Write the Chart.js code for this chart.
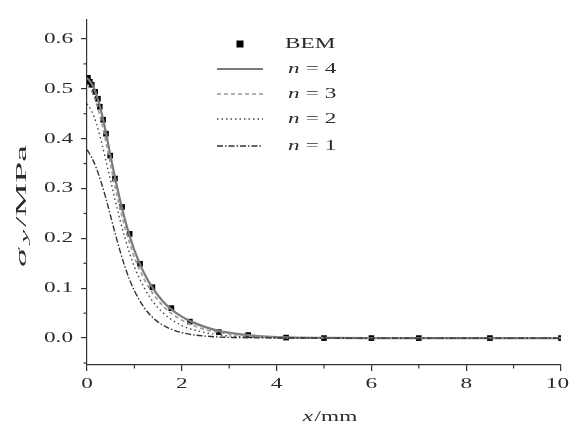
<!DOCTYPE html>
<html>
<head>
<meta charset="utf-8">
<script src="https://cdn.jsdelivr.net/npm/chart.js@4.4.1/dist/chart.umd.min.js"></script>
<style>
  html, body { margin: 0; padding: 0; background: #fff; }
  #wrap { width: 570px; height: 428px; }
</style>
</head>
<body>
<div id="wrap"><canvas id="stressChart" width="570" height="428"></canvas></div>
<script>
// BEM reference points (x in mm, sigma_y in MPa)
const bemX = [0.02, 0.06, 0.1, 0.17, 0.23, 0.27, 0.34, 0.4, 0.49, 0.59, 0.74, 0.9, 1.12, 1.38, 1.78, 2.17, 2.78, 3.4, 4.2, 5, 6, 7, 8.5, 10];
const bemY = [0.522, 0.514, 0.508, 0.494, 0.48, 0.464, 0.438, 0.41, 0.366, 0.32, 0.263, 0.209, 0.149, 0.102, 0.06, 0.033, 0.012, 0.006, 0.001, 0, 0, 0, 0, 0];

// analytic curves sampled at these x
const curveX = [0, 0.1, 0.2, 0.3, 0.4, 0.5, 0.6, 0.7, 0.8, 0.9, 1.0, 1.2, 1.4, 1.6, 1.8, 2.0, 2.2, 2.5, 2.8, 3.2, 3.6, 4.0, 5, 6, 7, 8, 9, 10];
const n4 = [0.522, 0.510, 0.488, 0.455, 0.412, 0.363, 0.318, 0.276, 0.238, 0.205, 0.176, 0.131, 0.098, 0.074, 0.056, 0.043, 0.033, 0.022, 0.014, 0.008, 0.004, 0.002, 0.0005, 0, 0, 0, 0, 0];
const n3 = [0.508, 0.495, 0.470, 0.436, 0.393, 0.346, 0.300, 0.259, 0.222, 0.190, 0.162, 0.119, 0.088, 0.065, 0.048, 0.036, 0.027, 0.017, 0.011, 0.006, 0.003, 0.0015, 0.0003, 0, 0, 0, 0, 0];
const n2 = [0.470, 0.455, 0.430, 0.395, 0.356, 0.315, 0.274, 0.236, 0.201, 0.170, 0.143, 0.102, 0.072, 0.051, 0.036, 0.025, 0.018, 0.011, 0.006, 0.003, 0.0015, 0.0007, 0.0001, 0, 0, 0, 0, 0];
const n1 = [0.378, 0.362, 0.340, 0.312, 0.280, 0.244, 0.208, 0.174, 0.143, 0.117, 0.095, 0.062, 0.040, 0.026, 0.017, 0.011, 0.007, 0.004, 0.002, 0.001, 0.0005, 0.0002, 0, 0, 0, 0, 0, 0];

const xTicks = [0, 2, 4, 6, 8, 10];
const xMinor = [1, 3, 5, 7, 9];
const yTicks = [0, 0.1, 0.2, 0.3, 0.4, 0.5, 0.6];
const yMinor = [-0.05, 0.05, 0.15, 0.25, 0.35, 0.45, 0.55];

const serif = '"Liberation Serif", "DejaVu Serif", serif';
const STRETCH = 1.55; // the reference's lettering is drawn wide

function pts(xs, ys) {
    return xs.map((x, i) => ({ x: x, y: ys[i] }));
}

function lineSet(label, ys, color, width, dash) {
    return {
        label: label,
        data: pts(curveX, ys),
        showLine: true,
        borderColor: color,
        borderWidth: width,
        borderDash: dash,
        pointRadius: 0,
        cubicInterpolationMode: 'monotone',
        fill: false
    };
}

const datasets = [
    lineSet('n = 1', n1, '#333', 1.4, [6, 2, 1.5, 2]),
    lineSet('n = 2', n2, '#444', 1.4, [1.5, 3]),
    lineSet('n = 3', n3, '#999', 1.6, [4, 3]),
    lineSet('n = 4', n4, '#7a7a7a', 2.2, []),
    {
        label: 'BEM',
        data: pts(bemX, bemY),
        showLine: false,
        pointStyle: 'rect',
        pointRadius: 4,
        backgroundColor: '#000',
        borderColor: '#000',
        borderWidth: 0
    }
];

// parts: [{t, it, size, dy, gap}] drawn left to right, stretched by sx
function partsWidth(c, parts) {
    let w = 0;
    parts.forEach(p => {
        c.font = (p.it ? 'italic ' : '') + (p.size || 15) + 'px ' + serif;
        w += c.measureText(p.t).width + (p.gap || 0);
    });
    return w;
}

function drawParts(c, parts, x, y, sx, align, maxRight) {
    const w = partsWidth(c, parts) * sx;
    let start = x;
    if (align === 'center') start = x - w / 2;
    if (align === 'right') start = x - w;
    if (maxRight && start + w > maxRight) start = maxRight - w;
    c.save();
    c.translate(start, y);
    c.scale(sx, 1);
    c.textBaseline = 'middle';
    c.textAlign = 'left';
    let cx = 0;
    parts.forEach(p => {
        c.font = (p.it ? 'italic ' : '') + (p.size || 15) + 'px ' + serif;
        c.fillText(p.t, cx, p.dy || 0);
        cx += c.measureText(p.t).width + (p.gap || 0);
    });
    c.restore();
}

const decorations = {
    id: 'decorations',
    afterDraw(chart) {
        const c = chart.ctx;
        const xs = chart.scales.x, ys = chart.scales.y;
        const area = chart.chartArea;
        c.save();
        c.strokeStyle = '#333';
        c.lineWidth = 1.2;
        xMinor.forEach(v => {
            const px = xs.getPixelForValue(v);
            c.beginPath(); c.moveTo(px, area.bottom); c.lineTo(px, area.bottom + 3.5); c.stroke();
        });
        yMinor.forEach(v => {
            const py = ys.getPixelForValue(v);
            c.beginPath(); c.moveTo(area.left, py); c.lineTo(area.left - 3.5, py); c.stroke();
        });

        // tick labels
        c.fillStyle = '#2a2a2a';
        xTicks.forEach(v => {
            drawParts(c, [{ t: String(v) }], xs.getPixelForValue(v), 384, STRETCH, 'center', 569);
        });
        yTicks.forEach(v => {
            drawParts(c, [{ t: v.toFixed(1) }], 73, ys.getPixelForValue(v), STRETCH, 'right');
        });

        // legend
        const rows = [
            { ds: datasets[4], y: 44 },
            { ds: datasets[3], y: 69 },
            { ds: datasets[2], y: 94 },
            { ds: datasets[1], y: 119 },
            { ds: datasets[0], y: 146 }
        ];
        rows.forEach(r => {
            const ds = r.ds;
            if (ds.showLine) {
                c.strokeStyle = ds.borderColor;
                c.lineWidth = ds.borderWidth;
                c.setLineDash(ds.borderDash);
                c.beginPath(); c.moveTo(217, r.y); c.lineTo(263, r.y); c.stroke();
                c.setLineDash([]);
                c.fillStyle = '#2a2a2a';
                drawParts(c, [{ t: 'n', it: true, gap: 4 }, { t: '= ' + ds.label.slice(4) }], 288, r.y, STRETCH, 'left');
            } else {
                c.fillStyle = '#000';
                c.fillRect(236.5, r.y - 3.5, 7, 7);
                c.fillStyle = '#2a2a2a';
                drawParts(c, [{ t: ds.label }], 285, r.y, STRETCH, 'left');
            }
        });

        // x axis title
        c.fillStyle = '#2a2a2a';
        drawParts(c, [{ t: 'x', it: true, gap: 1 }, { t: '/mm' }], 330, 417, STRETCH, 'center');

        // y axis title, rotated, stretched along its length
        c.save();
        c.translate(22, 206);
        c.rotate(-Math.PI / 2);
        const yParts = [{ t: 'σ', it: true, size: 14, gap: 2 }, { t: 'y', it: true, size: 11, dy: 3, gap: 1 }, { t: '/MPa', size: 14 }];
        const natural = partsWidth(c, yParts);
        drawParts(c, yParts, 0, 0, 122 / natural, 'center');
        c.restore();

        c.restore();
    }
};

const ctx = document.getElementById('stressChart').getContext('2d');
const stressChart = new Chart(ctx, {
    type: 'scatter',
    data: { datasets: datasets },
    options: {
        responsive: false,
        animation: false,
        layout: { padding: { left: 0, top: 20, right: 9, bottom: 0 } },
        plugins: { legend: { display: false }, tooltip: { enabled: false } },
        scales: {
            x: {
                type: 'linear',
                min: 0,
                max: 10,
                afterBuildTicks: s => { s.ticks = xTicks.map(v => ({ value: v })); },
                afterFit: s => { s.height = 63; },
                border: { display: true, color: '#333', width: 1.2 },
                grid: { drawOnChartArea: false, drawTicks: true, tickLength: 6, color: '#333', lineWidth: 1.2 },
                ticks: { display: false }
            },
            y: {
                type: 'linear',
                min: -0.054,
                max: 0.638,
                afterBuildTicks: s => { s.ticks = yTicks.map(v => ({ value: v })); },
                afterFit: s => { s.width = 87; },
                border: { display: true, color: '#333', width: 1.2 },
                grid: { drawOnChartArea: false, drawTicks: true, tickLength: 6, color: '#333', lineWidth: 1.2 },
                ticks: { display: false }
            }
        }
    },
    plugins: [decorations]
});
</script>
</body>
</html>
